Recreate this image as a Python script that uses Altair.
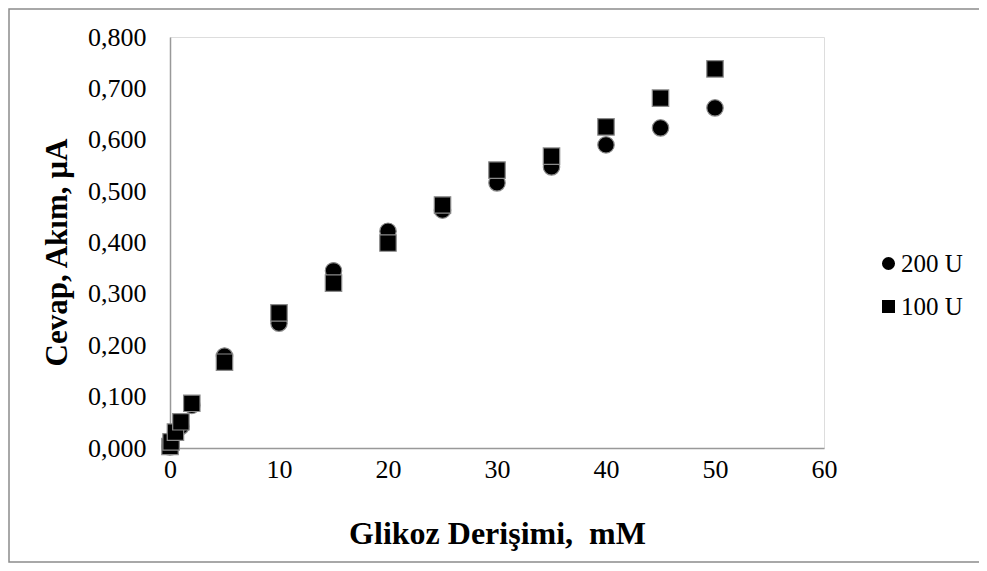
import altair as alt
import pandas as pd

x_vals = [0, 0.1, 0.5, 1, 2, 5, 10, 15, 20, 25, 30, 35, 40, 45, 50]
u200 = [0.002, 0.008, 0.028, 0.042, 0.083, 0.179, 0.243, 0.345, 0.422, 0.463, 0.516, 0.547, 0.590, 0.623, 0.662]
u100 = [0.003, 0.012, 0.031, 0.051, 0.087, 0.167, 0.263, 0.321, 0.399, 0.473, 0.541, 0.568, 0.625, 0.681, 0.738]
series = ["200 U", "100 U"]

rows = []
for i, x in enumerate(x_vals):
    rows.append({"x": x, "y": u200[i], "s": series[0], "o": 0})
for i, x in enumerate(x_vals):
    rows.append({"x": x, "y": u100[i], "s": series[1], "o": 1})
df = pd.DataFrame(rows)

FONT = "Liberation Serif"

frame = alt.Chart(pd.DataFrame({"a": [0]})).mark_rect(
    fill=None, stroke="#8c8c8c", strokeWidth=1.5, clip=False
).encode(
    x=alt.value(-161), x2=alt.value(900),
    y=alt.value(-28), y2=alt.value(525)
)

pts = alt.Chart(df).mark_point(
    filled=True, size=270, opacity=1, fill="black", stroke="#8a8a8a", strokeWidth=1.2
).encode(
    x=alt.X("x:Q", scale=alt.Scale(domain=[0, 60], nice=False),
            axis=alt.Axis(values=[0, 10, 20, 30, 40, 50, 60], title="Glikoz Derişimi,\u00a0 mM",
                          grid=False, ticks=False, domainColor="#999999", domainWidth=1.5,
                          labelFontSize=26, labelFont=FONT, labelColor="black", labelPadding=8,
                          labelFlush=False,
                          titleFont=FONT, titleFontSize=32, titleFontWeight="bold",
                          titleColor="black", titlePadding=36)),
    y=alt.Y("y:Q", scale=alt.Scale(domain=[0, 0.8], nice=False),
            axis=alt.Axis(values=[0, 0.1, 0.2, 0.3, 0.4, 0.5, 0.6, 0.7, 0.8],
                          labelExpr="replace(format(datum.value, '.3f'), '.', ',')",
                          title="Cevap, Akım, µA", grid=False, ticks=False,
                          domainColor="#999999", domainWidth=1.5,
                          labelFontSize=26, labelFont=FONT, labelColor="black", labelPadding=24,
                          labelFlush=False,
                          titleFont=FONT, titleFontSize=31, titleFontWeight="bold",
                          titleColor="black", titlePadding=14, titleY=215)),
    shape=alt.Shape("s:N", scale=alt.Scale(domain=series, range=["circle", "square"]),
                    legend=alt.Legend(title=None, orient="none", legendX=706, legendY=214,
                                      symbolSize=170, symbolFillColor="black",
                                      symbolStrokeColor="black", symbolStrokeWidth=0,
                                      labelFont=FONT, labelFontSize=25, labelColor="black",
                                      rowPadding=17, labelOffset=0)),
    order=alt.Order("o:Q"),
)

chart = alt.layer(frame, pts).properties(
    width=654, height=411,
    padding={"left": 162, "top": 29, "right": 155, "bottom": 115},
    autosize=alt.AutoSizeParams(type="none"),
).configure_view(stroke=None).configure(background="white")

chart.save("out.html", embed_options={"renderer": "svg", "actions": False})
